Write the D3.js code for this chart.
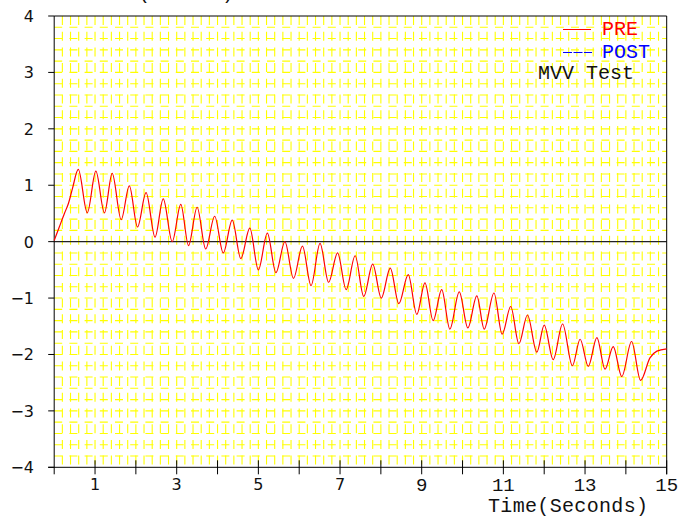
<!DOCTYPE html>
<html>
<head>
<meta charset="utf-8">
<script src="https://cdn.jsdelivr.net/npm/d3@7"></script>
<style>
  body { margin: 0; background: #fff; }
  svg { display: block; }
</style>
</head>
<body>
<div id="chart"></div>
<script>
(function () {
  // PRE curve (time in s, volume in litres)
  const preTime = [0, 0.12, 0.25, 0.35, 0.45, 0.59, 0.81, 1.02, 1.23, 1.42, 1.64, 1.84, 2.04, 2.25, 2.47,
    2.67, 2.89, 3.10, 3.29, 3.50, 3.71, 3.93, 4.14, 4.36, 4.57, 4.79, 5.00, 5.22, 5.43, 5.65, 5.86,
    6.08, 6.29, 6.51, 6.72, 6.94, 7.15, 7.37, 7.58, 7.80, 8.01, 8.23, 8.44, 8.67, 8.88, 9.08, 9.28,
    9.49, 9.69, 9.92, 10.13, 10.35, 10.53, 10.77, 10.97, 11.18, 11.38, 11.59, 11.82, 12.00, 12.22,
    12.45, 12.69, 12.88, 13.08, 13.29, 13.49, 13.69, 13.90, 14.14, 14.36, 14.59, 14.76, 15.00];
  const preValue = [0.02, 0.25, 0.5, 0.68, 0.95, 1.28, 0.51, 1.25, 0.51, 1.21, 0.39, 0.99, 0.26, 0.87, 0.08,
    0.76, 0.00, 0.66, -0.07, 0.61, -0.13, 0.45, -0.20, 0.38, -0.30, 0.24, -0.50, 0.15, -0.55, 0.00, -0.65,
    -0.08, -0.78, -0.03, -0.72, -0.20, -0.85, -0.25, -0.97, -0.40, -1.00, -0.47, -1.10, -0.585, -1.29, -0.73, -1.40,
    -0.85, -1.55, -0.89, -1.53, -0.96, -1.55, -0.91, -1.64, -1.15, -1.81, -1.30, -1.96, -1.48, -2.09,
    -1.46, -2.20, -1.73, -2.21, -1.70, -2.26, -1.86, -2.39, -1.77, -2.46, -2.06, -1.94, -1.90];
  // POST series: present in the legend only
  const postTime = [];
  const postValue = [];

  const yTicks = [4, 3, 2, 1, 0, -1, -2, -3, -4];
  const xTicks = [1, 2, 3, 4, 5, 6, 7, 8, 9, 10, 11, 12, 13, 14, 15];
  const xLabelsSans = [1, 3, 5, 7];
  const xLabelsMono = [9, 11, 13, 15];

  const [width, height] = [684, 517];
  const mono = "'Liberation Mono', 'Courier New', monospace";
  const sans = "'DejaVu Sans', Verdana, sans-serif";

  const x = d3.scaleLinear().domain([0, 15]).range([54.2, 666.7]);
  const y = d3.scaleLinear().domain([-4, 4]).range([467.3, 16]);

  const svg = d3.select("#chart")
    .append("svg")
    .attr("width", width)
    .attr("height", height);

  // the dashed yellow grid, every 0.2 on both axes
  const gx = d3.range(1, 75).map(i => i * 0.2);
  const gy = d3.range(-19, 20).filter(i => i !== 0).map(i => i * 0.2);

  svg.append("g").selectAll("line")
    .data(gx)
    .enter().append("line")
    .attr("x1", d => x(d)).attr("x2", d => x(d))
    .attr("y1", y(4)).attr("y2", y(-4))
    .attr("stroke", "#ffff00")
    .attr("stroke-width", 1.1)
    .attr("stroke-dasharray", "9,6.7");

  svg.append("g").selectAll("line")
    .data(gy)
    .enter().append("line")
    .attr("x1", x(0)).attr("x2", x(15))
    .attr("y1", d => y(d)).attr("y2", d => y(d))
    .attr("stroke", "#ffff00")
    .attr("stroke-width", 1.1)
    .attr("stroke-dasharray", "8,7.2");

  // zero line
  svg.append("line")
    .attr("x1", x(0)).attr("x2", x(15))
    .attr("y1", y(0)).attr("y2", y(0))
    .attr("stroke", "#222")
    .attr("stroke-width", 1.2);

  // frame
  svg.append("line")
    .attr("x1", x(0)).attr("x2", x(15))
    .attr("y1", y(4)).attr("y2", y(4))
    .attr("stroke", "#000");
  svg.append("line")
    .attr("x1", x(15)).attr("x2", x(15))
    .attr("y1", y(4)).attr("y2", y(-4) + 7)
    .attr("stroke", "#000");
  svg.append("line")
    .attr("x1", x(0)).attr("x2", x(0))
    .attr("y1", y(4)).attr("y2", y(-4) + 7)
    .attr("stroke", "#000");
  svg.append("line")
    .attr("x1", x(0) - 6).attr("x2", x(15))
    .attr("y1", y(-4)).attr("y2", y(-4))
    .attr("stroke", "#000");

  // y ticks and labels
  svg.append("g").selectAll("line")
    .data(yTicks)
    .enter().append("line")
    .attr("x1", x(0) - 6).attr("x2", x(0))
    .attr("y1", d => y(d)).attr("y2", d => y(d))
    .attr("stroke", "#000");

  svg.append("g").selectAll("text")
    .data(yTicks)
    .enter().append("text")
    .attr("x", 34)
    .attr("y", d => y(d) + 6)
    .attr("text-anchor", "end")
    .attr("font-family", sans)
    .attr("font-size", 16)
    .attr("fill", "#111")
    .text(d => d < 0 ? "\u2212" + Math.abs(d) : d);

  // x ticks cross the axis
  svg.append("g").selectAll("line")
    .data(xTicks)
    .enter().append("line")
    .attr("x1", d => x(d)).attr("x2", d => x(d))
    .attr("y1", y(-4) - 7).attr("y2", y(-4) + 7)
    .attr("stroke", "#000");

  svg.append("g").selectAll("text")
    .data(xLabelsSans)
    .enter().append("text")
    .attr("x", d => x(d))
    .attr("y", 490)
    .attr("text-anchor", "middle")
    .attr("font-family", sans)
    .attr("font-size", 16)
    .attr("fill", "#111")
    .text(d => d);

  svg.append("g").selectAll("text")
    .data(xLabelsMono)
    .enter().append("text")
    .attr("x", d => x(d))
    .attr("y", 491)
    .attr("text-anchor", "middle")
    .attr("font-family", mono)
    .attr("font-size", 19)
    .attr("fill", "#111")
    .text(d => d);

  svg.append("text")
    .attr("x", 488)
    .attr("y", 512)
    .attr("font-family", mono)
    .attr("font-size", 20)
    .attr("textLength", 160)
    .attr("fill", "#111")
    .text("Time(Seconds)");

  // y title, mostly cut off at the top
  svg.append("text")
    .attr("x", 66)
    .attr("y", -1)
    .attr("font-family", mono)
    .attr("font-size", 20)
    .attr("fill", "#111")
    .text("Volume(Liters)");

  // curves
  const line = d3.line()
    .x(d => x(d[0]))
    .y(d => y(d[1]))
    .curve(d3.curveMonotoneX);

  svg.append("path")
    .datum(preTime.map((t, i) => [t, preValue[i]]))
    .attr("d", line)
    .attr("fill", "none")
    .attr("stroke", "#ff0000")
    .attr("stroke-width", 1.2);

  svg.append("path")
    .datum(postTime.map((t, i) => [t, postValue[i]]))
    .attr("d", line)
    .attr("fill", "none")
    .attr("stroke", "#0000ff")
    .attr("stroke-width", 1.2);

  // legend
  svg.append("line")
    .attr("x1", 563).attr("x2", 591)
    .attr("y1", 29.5).attr("y2", 29.5)
    .attr("stroke", "#ff0000");
  svg.append("text")
    .attr("x", 602).attr("y", 35)
    .attr("font-family", mono).attr("font-size", 20)
    .attr("fill", "#ff0000")
    .text("PRE");

  svg.append("line")
    .attr("x1", 563).attr("x2", 592)
    .attr("y1", 52.5).attr("y2", 52.5)
    .attr("stroke", "#0000ff")
    .attr("stroke-dasharray", "9,1.5");
  svg.append("text")
    .attr("x", 602).attr("y", 58)
    .attr("font-family", mono).attr("font-size", 20)
    .attr("fill", "#0000ff")
    .text("POST");

  svg.append("text")
    .attr("x", 538).attr("y", 78.5)
    .attr("font-family", mono).attr("font-size", 20)
    .attr("fill", "#111")
    .text("MVV Test");
})();
</script>
</body>
</html>
